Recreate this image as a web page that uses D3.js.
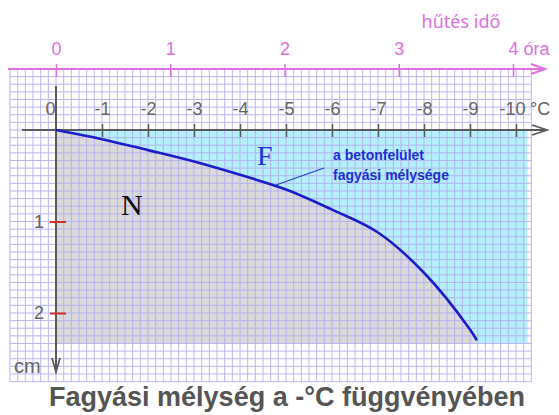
<!DOCTYPE html>
<html><head><meta charset="utf-8">
<script src="https://cdn.jsdelivr.net/npm/d3@7"></script>
<style>
html,body{margin:0;padding:0;background:#fff;}
svg{display:block;font-family:"Liberation Sans",Arial,sans-serif;}
</style></head>
<body>
<svg id="c" width="559" height="415"></svg>
<script>
// ---- data ----
const tempTicks = [0,-1,-2,-3,-4,-5,-6,-7,-8,-9,-10];
const hourTicks = [0,1,2,3,4];
const depthTicks = [1,2];
const curveTemp  = [0,-1,-2,-3,-4,-5,-6,-7,-8,-9,-9.15];
const curveDepth = [0,0.10,0.22,0.345,0.49,0.65,0.87,1.12,1.56,2.18,2.30];
const fillDepthMax = 2.33;
const cyanTempMax = -10.25;

const svg = d3.select("#c");
const x = d3.scaleLinear().domain([0,-10]).range([56,516]);
const y = d3.scaleLinear().domain([0,2]).range([130,313]);
const h = d3.scaleLinear().domain([0,4]).range([56,513]);

const pink = "#e06ee0", axGray = "#5a5a5a", txtGray = "#666";
const FF = "Liberation Sans, Arial, sans-serif";

// cyan region
svg.append("rect").attr("x",x(0)).attr("y",y(0))
  .attr("width",x(cyanTempMax)-x(0)).attr("height",y(fillDepthMax)-y(0))
  .attr("fill","#b4f0fa");

// gray region under curve
const pts = curveTemp.map((t,i)=>[t,curveDepth[i]]);
const line = d3.line().x(d=>x(d[0])).y(d=>y(d[1])).curve(d3.curveCatmullRom.alpha(0.5));
const last = pts[pts.length-1];
const areaPath = line(pts) + `L${x(last[0])},${y(fillDepthMax)}L${x(0)},${y(fillDepthMax)}Z`;
svg.append("path").attr("d",areaPath).attr("fill","#d9d9d9");

// grid
const g = svg.append("g").attr("stroke","#b4aef5").attr("stroke-width",1).attr("opacity",0.9);
const gx = d3.range(1, -10.34, -1/6);
const gy = d3.range(-0.667, 2.76, 1/12);
const gx0 = x(1), gx1 = x(-10.33), gy0 = y(-0.667), gy1 = y(2.75);
gx.forEach(t=>g.append("line").attr("x1",x(t)).attr("x2",x(t)).attr("y1",gy0).attr("y2",gy1));
gy.forEach(d=>g.append("line").attr("y1",y(d)).attr("y2",y(d)).attr("x1",gx0).attr("x2",gx1));

// pink top axis (hours)
svg.append("line").attr("x1",8).attr("x2",543).attr("y1",69).attr("y2",69)
  .attr("stroke",pink).attr("stroke-width",2);
svg.append("path").attr("d","M531,64L545,69L531,74").attr("fill","none").attr("stroke",pink).attr("stroke-width",2);
const hAxis = svg.append("g").attr("transform","translate(0,69)")
  .call(d3.axisTop(h).tickValues(hourTicks).tickSize(0).tickPadding(14));
hAxis.select(".domain").remove();
hAxis.selectAll(".tick line").attr("y1",-5).attr("y2",8).attr("stroke",pink).attr("stroke-width",1.5);
hAxis.selectAll(".tick text").attr("fill",pink).attr("font-size",18).attr("font-family",FF)
  .text(d=>d===4?"4 óra":d).attr("text-anchor",d=>d===4?"start":"middle").attr("dx",d=>d===4?-5:0);
svg.append("text").attr("x",461).attr("y",28).attr("text-anchor","middle").attr("fill",pink)
  .attr("font-size",18).attr("font-family","Noto Sans, sans-serif").text("hűtés idő");

// temperature axis
svg.append("line").attr("x1",22).attr("x2",545).attr("y1",130).attr("y2",130)
  .attr("stroke",axGray).attr("stroke-width",2);
svg.append("path").attr("d","M532,125L547,130L532,135").attr("fill","none").attr("stroke",axGray).attr("stroke-width",1.8);
const tAxis = svg.append("g").attr("transform","translate(0,130)")
  .call(d3.axisTop(x).tickValues(tempTicks).tickSize(0).tickPadding(15).tickFormat(d=>String(d)));
tAxis.select(".domain").remove();
tAxis.selectAll(".tick line").attr("y1",d=>d===0?0:-6).attr("y2",d=>d===0?0:7).attr("stroke",axGray).attr("stroke-width",1.5);
tAxis.selectAll(".tick text").attr("fill",txtGray).attr("font-size",18).attr("font-family",FF)
  .attr("dx",d=>d===0?-6:(d===-10?-4:0));
svg.append("text").attr("x",530).attr("y",115).attr("fill",txtGray).attr("font-size",18).attr("font-family",FF).text("°C");

// depth axis
svg.append("line").attr("x1",56).attr("x2",56).attr("y1",86).attr("y2",370)
  .attr("stroke",axGray).attr("stroke-width",2);
svg.append("path").attr("d","M52,358L56,372L60,358").attr("fill","none").attr("stroke",axGray).attr("stroke-width",1.8);
const dAxis = svg.append("g").attr("transform","translate(56,0)")
  .call(d3.axisLeft(y).tickValues(depthTicks).tickSize(0).tickPadding(12).tickFormat(d=>String(d)));
dAxis.select(".domain").remove();
dAxis.selectAll(".tick line").attr("x1",-6).attr("x2",10).attr("stroke","#d03030").attr("stroke-width",2);
dAxis.selectAll(".tick text").attr("fill",txtGray).attr("font-size",18).attr("font-family",FF);
svg.append("text").attr("x",14).attr("y",373).attr("fill",txtGray).attr("font-size",20).attr("font-family",FF).text("cm");

// curve
svg.append("path").attr("d",line(pts)).attr("fill","none").attr("stroke","#1c1cc8").attr("stroke-width",2.6);

// labels
svg.append("text").attr("x",121).attr("y",215).attr("fill","#111").attr("font-size",30)
  .attr("font-family","Liberation Serif, Times New Roman, serif").text("N");
svg.append("text").attr("x",257).attr("y",165).attr("fill","#2233dd").attr("font-size",28)
  .attr("font-family","Liberation Serif, Times New Roman, serif").text("F");
svg.append("line").attr("x1",276).attr("y1",185).attr("x2",324).attr("y2",168)
  .attr("stroke","#2a3ad0").attr("stroke-width",1.2);
svg.append("text").attr("x",333).attr("y",160).attr("fill","#1f2fd8").attr("font-size",14)
  .attr("font-weight","bold").attr("font-family",FF).text("a betonfelület");
svg.append("text").attr("x",333).attr("y",180).attr("fill","#1f2fd8").attr("font-size",14)
  .attr("font-weight","bold").attr("font-family",FF).text("fagyási mélysége");

// title
svg.append("text").attr("x",287).attr("y",406).attr("text-anchor","middle").attr("fill","#555")
  .attr("font-size",27).attr("font-weight","bold").attr("font-family",FF).text("Fagyási mélység a -°C függvényében");
</script>
</body></html>
